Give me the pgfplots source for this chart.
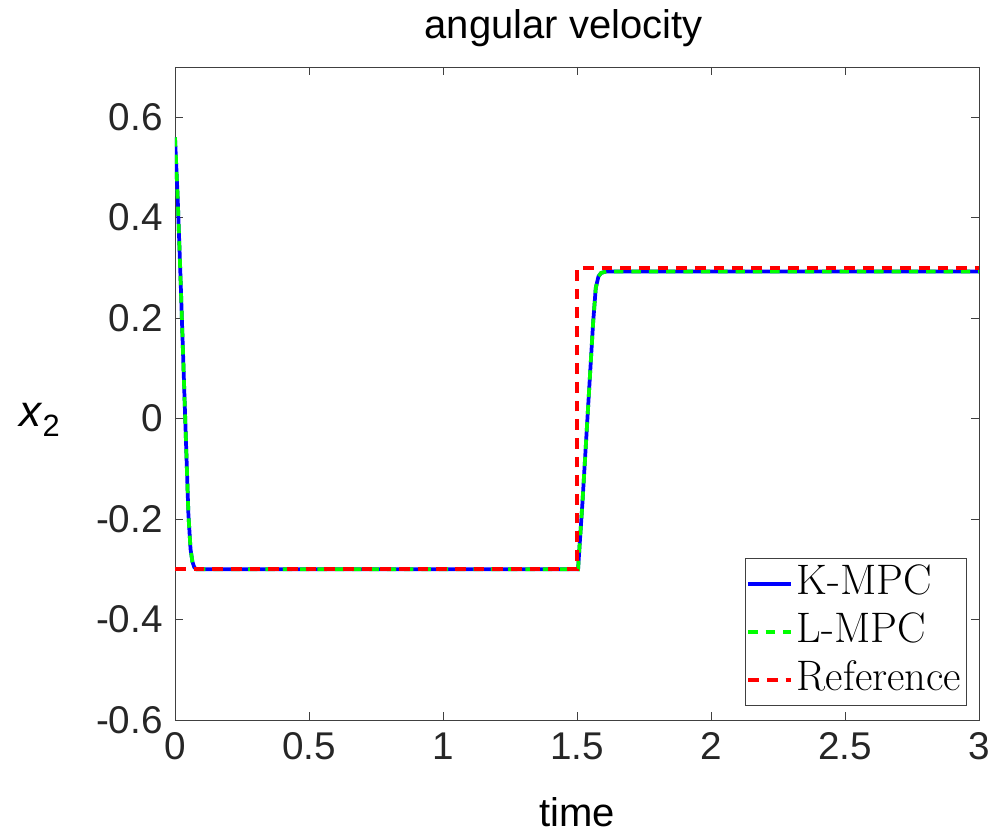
\documentclass[border=0pt]{standalone}
\usepackage{pgfplots}
\pgfplotsset{compat=1.18}
\usepackage{fontspec}
\newfontfamily\hv{Liberation Sans}
\begin{document}
\begin{tikzpicture}
\begin{axis}[name=ax,
  scale only axis, width=603pt, height=489.75pt,
  xmin=0, xmax=3, ymin=-0.6, ymax=0.7,
  xtick={0,0.5,1,1.5,2,2.5,3},
  ytick={-0.6,-0.4,-0.2,0,0.2,0.4,0.6},
  yticklabels={-0.6,-0.4,-0.2,0,0.2,0.4,0.6},
  xticklabels={0,0.5,1,1.5,2,2.5,3},
  tick align=inside, major tick length=6pt,
  axis line style={black!75, line width=0.6pt},
  every tick/.style={black!75, line width=0.6pt},
  tick label style={font=\hv\fontsize{29}{32}\selectfont, text=black!85},
  xticklabel style={anchor=base, yshift=-30pt},
  yticklabel style={anchor=east, inner sep=0pt, xshift=-9pt},
  title={\hv\fontsize{30}{34}\selectfont angular velocity},
  title style={at={(0.5,1)}, anchor=base, inner sep=0pt, yshift=15.5pt, xshift=-10pt},
  xlabel={\hv\fontsize{30}{34}\selectfont time},
  xlabel style={at={(0.5,0)}, anchor=base, inner sep=0pt, yshift=-80pt},
  ylabel={\hv\fontsize{33}{36}\selectfont\textit{x}\textsubscript{2}},
  ylabel style={rotate=-90, at={(0,0.5)}, anchor=base west, inner sep=0pt, xshift=-117pt, yshift=-24.4pt},
  legend style={at={(0.985,0.0215)}, anchor=south east, draw=black!75, line width=0.6pt,
    font=\fontsize{32}{34}\selectfont, inner sep=1pt, row sep=0pt,
    nodes={text height=23pt, text depth=7pt, inner sep=3pt}},
  legend cell align=left,
  legend image code/.code={\draw[#1] (0pt,0pt) -- (32pt,0pt);},
]
\addplot[blue, line width=2.8pt] coordinates {
(0,0.56) (0.01,0.44) (0.02,0.29) (0.03,0.13) (0.04,-0.03) (0.05,-0.19) (0.058,-0.26) (0.065,-0.285) (0.072,-0.296) (0.08,-0.3) (0.1,-0.3) (1.504,-0.3)
(1.51,-0.25) (1.52,-0.17) (1.53,-0.08) (1.54,0.01) (1.55,0.1) (1.56,0.19) (1.57,0.26) (1.58,0.283) (1.59,0.29) (1.61,0.293) (3,0.293)};
\addlegendentry{K-MPC}
\addplot[green, line width=2.8pt, dash pattern=on 7pt off 6pt] coordinates {
(0,0.56) (0.01,0.44) (0.02,0.29) (0.03,0.13) (0.04,-0.03) (0.05,-0.19) (0.058,-0.26) (0.065,-0.285) (0.072,-0.296) (0.08,-0.3) (0.1,-0.3) (1.504,-0.3)
(1.51,-0.25) (1.52,-0.17) (1.53,-0.08) (1.54,0.01) (1.55,0.1) (1.56,0.19) (1.57,0.26) (1.58,0.283) (1.59,0.29) (1.61,0.293) (3,0.293)};
\addlegendentry{L-MPC}
\addplot[red, line width=2.8pt, dash pattern=on 8pt off 6pt] coordinates {
(0,-0.3) (1.5,-0.3) (1.5,0.3) (3,0.3)};
\addlegendentry{Reference}
\end{axis}
\pgfresetboundingbox
\path[use as bounding box] ([xshift=-131.25pt,yshift=-86.25pt]ax.south west) rectangle ([xshift=8.25pt,yshift=50.25pt]ax.north east);
\end{tikzpicture}
\end{document}
